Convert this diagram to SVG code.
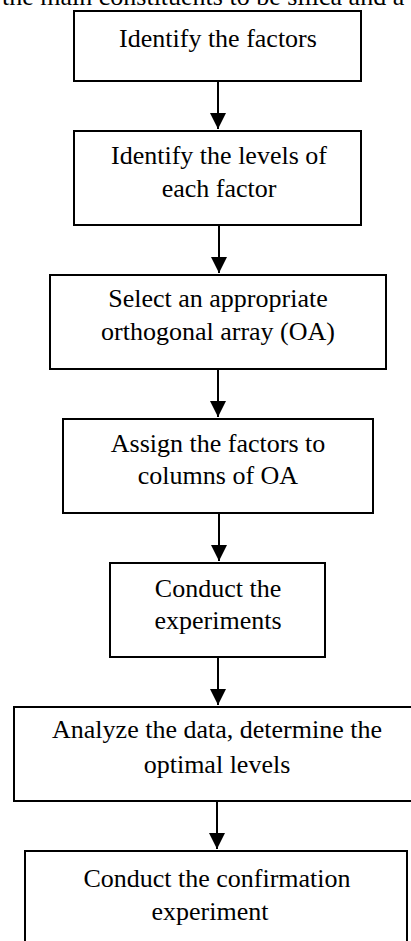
<svg xmlns="http://www.w3.org/2000/svg" width="411" height="941" viewBox="0 0 411 941">
<style>
.box{fill:#fff;stroke:#000;stroke-width:2}
.t{font-family:"Liberation Serif","Times New Roman",serif;font-size:26px;fill:#000;text-anchor:middle}
.c{stroke:#000;stroke-width:2;fill:none;marker-end:url(#ah)}
</style>
<defs>
<marker id="ah" viewBox="0 0 16 16" markerWidth="16" markerHeight="16" markerUnits="userSpaceOnUse" refX="16" refY="8" orient="auto">
<path d="M0,0 L16,8 L0,16 z" fill="#000"/>
</marker>
</defs>
<rect width="411" height="941" fill="#fff"/>
<text x="2" y="5" class="t" font-family="Liberation Serif, serif" style="text-anchor:start">the main constituents to be silica and a</text>
<g id="connectors">
<line class="c" x1="218" y1="82" x2="218" y2="129"/>
<line class="c" x1="219" y1="226" x2="219" y2="273"/>
<line class="c" x1="218" y1="370" x2="218" y2="417"/>
<line class="c" x1="219" y1="514" x2="219" y2="561"/>
<line class="c" x1="218" y1="658" x2="218" y2="705"/>
<line class="c" x1="217" y1="802" x2="217" y2="849"/>
</g>
<g font-family="Liberation Serif, serif">
<g id="n1"><rect class="box" x="74" y="11" width="287" height="70"/><text class="t" x="218" y="47">Identify the factors</text></g>
<g id="n2"><rect class="box" x="74" y="131" width="287" height="94"/><text class="t" x="219" y="164">Identify the levels of</text><text class="t" x="219" y="197">each factor</text></g>
<g id="n3"><rect class="box" x="50" y="275" width="336" height="94"/><text class="t" x="218" y="307">Select an appropriate</text><text class="t" x="218" y="340">orthogonal array (OA)</text></g>
<g id="n4"><rect class="box" x="63" y="419" width="310" height="94"/><text class="t" x="218" y="452">Assign the factors to</text><text class="t" x="218" y="484">columns of OA</text></g>
<g id="n5"><rect class="box" x="110" y="563" width="215" height="94"/><text class="t" x="218" y="597">Conduct the</text><text class="t" x="218" y="629">experiments</text></g>
<g id="n6"><rect class="box" x="14" y="707" width="420" height="94"/><text class="t" x="217" y="738">Analyze the data, determine the</text><text class="t" x="217" y="773">optimal levels</text></g>
<g id="n7"><rect class="box" x="25" y="851" width="382" height="120"/><text class="t" x="217" y="887">Conduct the confirmation</text><text class="t" x="210" y="920">experiment</text></g>
</g>
</svg>
